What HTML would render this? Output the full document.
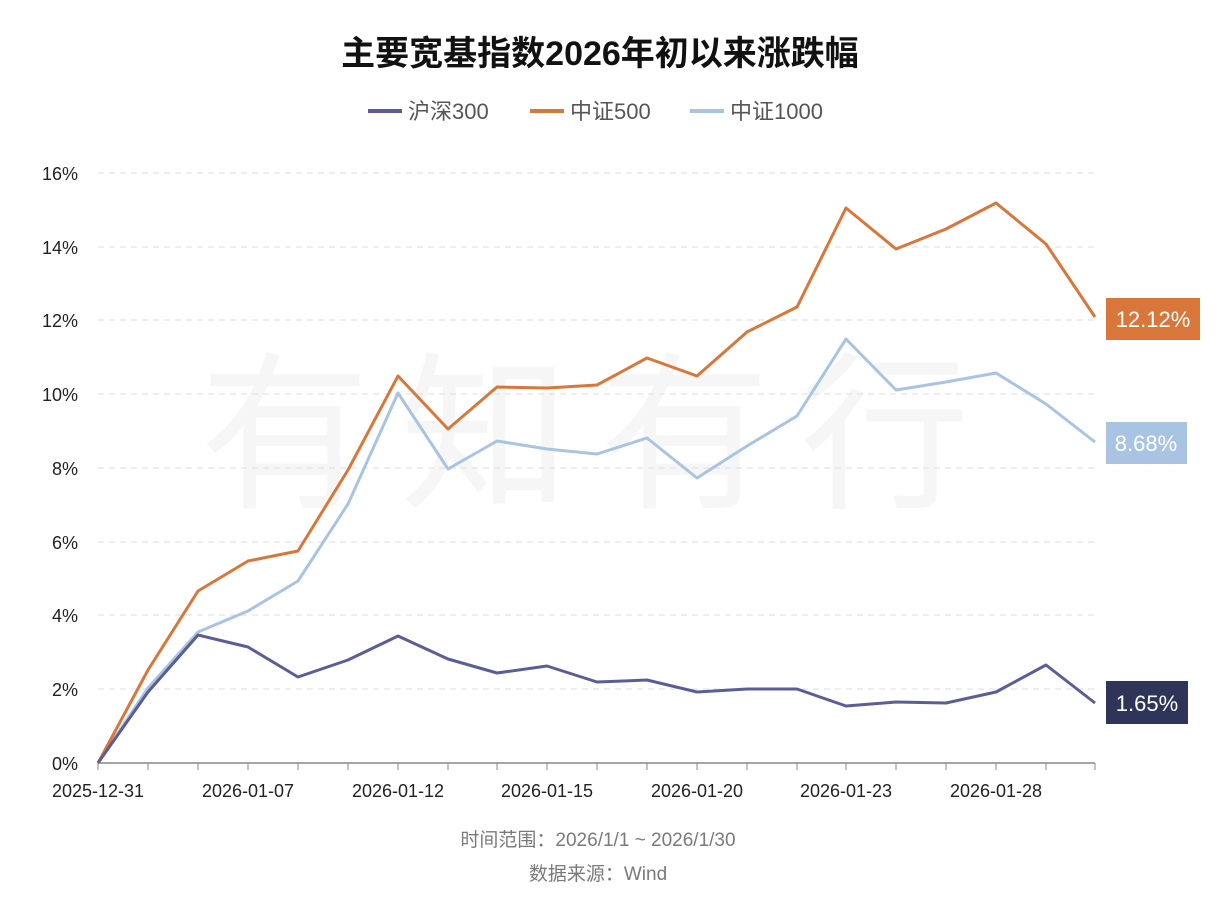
<!DOCTYPE html>
<html><head><meta charset="utf-8"><style>
body{margin:0;background:#fff;}
svg{display:block;font-family:"Liberation Sans","Noto Sans CJK SC",sans-serif;}
</style></head><body>
<svg width="1232" height="902" viewBox="0 0 1232 902">
<rect width="1232" height="902" fill="#fff"/>
<text x="600" y="65" text-anchor="middle" font-size="34" font-weight="bold" fill="#111">主要宽基指数2026年初以来涨跌幅</text>
<g font-size="22" fill="#555">
<line x1="368" y1="111" x2="402" y2="111" stroke="#5b5e96" stroke-width="4"/><text x="408" y="119">沪深300</text>
<line x1="530" y1="111" x2="564" y2="111" stroke="#d9773a" stroke-width="4"/><text x="570" y="119">中证500</text>
<line x1="690" y1="111" x2="724" y2="111" stroke="#a9c4e3" stroke-width="4"/><text x="730" y="119">中证1000</text>
</g>
<text x="600" y="495" text-anchor="middle" font-size="170" fill="#f6f6f6" letter-spacing="30">有知有行</text>
<g stroke="#dcdce6" stroke-dasharray="6,5" stroke-width="1">
<line x1="98" y1="173" x2="1095" y2="173"/><line x1="98" y1="247" x2="1095" y2="247"/>
<line x1="98" y1="320" x2="1095" y2="320"/><line x1="98" y1="394" x2="1095" y2="394"/>
<line x1="98" y1="468" x2="1095" y2="468"/><line x1="98" y1="542" x2="1095" y2="542"/>
<line x1="98" y1="615" x2="1095" y2="615"/><line x1="98" y1="689" x2="1095" y2="689"/>
</g>
<line x1="98" y1="763" x2="1095" y2="763" stroke="#888" stroke-width="1.5"/>
<g stroke="#888">
<line x1="98" y1="763" x2="98" y2="770"/><line x1="148" y1="763" x2="148" y2="770"/><line x1="198" y1="763" x2="198" y2="770"/><line x1="248" y1="763" x2="248" y2="770"/><line x1="298" y1="763" x2="298" y2="770"/><line x1="348" y1="763" x2="348" y2="770"/><line x1="398" y1="763" x2="398" y2="770"/><line x1="448" y1="763" x2="448" y2="770"/><line x1="497" y1="763" x2="497" y2="770"/><line x1="547" y1="763" x2="547" y2="770"/><line x1="597" y1="763" x2="597" y2="770"/><line x1="647" y1="763" x2="647" y2="770"/><line x1="697" y1="763" x2="697" y2="770"/><line x1="747" y1="763" x2="747" y2="770"/><line x1="797" y1="763" x2="797" y2="770"/><line x1="846" y1="763" x2="846" y2="770"/><line x1="896" y1="763" x2="896" y2="770"/><line x1="946" y1="763" x2="946" y2="770"/><line x1="996" y1="763" x2="996" y2="770"/><line x1="1046" y1="763" x2="1046" y2="770"/><line x1="1095" y1="763" x2="1095" y2="770"/>
</g>
<g font-size="18" fill="#222" text-anchor="end">
<text x="78" y="180">16%</text><text x="78" y="254">14%</text><text x="78" y="327">12%</text><text x="78" y="401">10%</text><text x="78" y="475">8%</text><text x="78" y="549">6%</text><text x="78" y="622">4%</text><text x="78" y="696">2%</text><text x="78" y="770">0%</text>
</g>
<g font-size="18" fill="#222" text-anchor="middle">
<text x="98" y="797">2025-12-31</text><text x="248" y="797">2026-01-07</text><text x="398" y="797">2026-01-12</text><text x="547" y="797">2026-01-15</text><text x="697" y="797">2026-01-20</text><text x="846" y="797">2026-01-23</text><text x="996" y="797">2026-01-28</text>
</g>
<g fill="none" stroke-width="3" stroke-linejoin="round">
<polyline stroke="#a9c4e3" points="98,763 148,688 198,632 248,611 298,581 348,504 398,393 448,469 497,441 547,449 597,454 647,438 697,478 747,446 797,416 846,339 896,390 946,382 996,373 1046,404 1095,442"/>
<polyline stroke="#d9773a" points="98,763 148,670 198,591 248,561 298,551 348,470 398,376 448,429 497,387 547,388 597,385 647,358 697,376 747,332 797,307 846,208 896,249 946,229 996,203 1046,244 1095,317"/>
<polyline stroke="#5b5e96" points="98,763 148,692 198,635 248,647 298,677 348,660 398,636 448,659 497,673 547,666 597,682 647,680 697,692 747,689 797,689 846,706 896,702 946,703 996,692 1046,665 1095,703"/>
</g>
<rect x="1106" y="298" width="94" height="42" fill="#d9773a"/><text x="1153" y="327" text-anchor="middle" font-size="22" fill="#fff">12.12%</text>
<rect x="1106" y="422" width="81" height="42" fill="#a9c4e3"/><text x="1146" y="451" text-anchor="middle" font-size="22" fill="#fff">8.68%</text>
<rect x="1106" y="681" width="82" height="43" fill="#2e3559"/><text x="1147" y="711" text-anchor="middle" font-size="22" fill="#fff">1.65%</text>
<text x="598" y="846" text-anchor="middle" font-size="19" fill="#7a7a7a">时间范围：2026/1/1 ~ 2026/1/30</text>
<text x="598" y="880" text-anchor="middle" font-size="19" fill="#7a7a7a">数据来源：Wind</text>
</svg>
</body></html>
